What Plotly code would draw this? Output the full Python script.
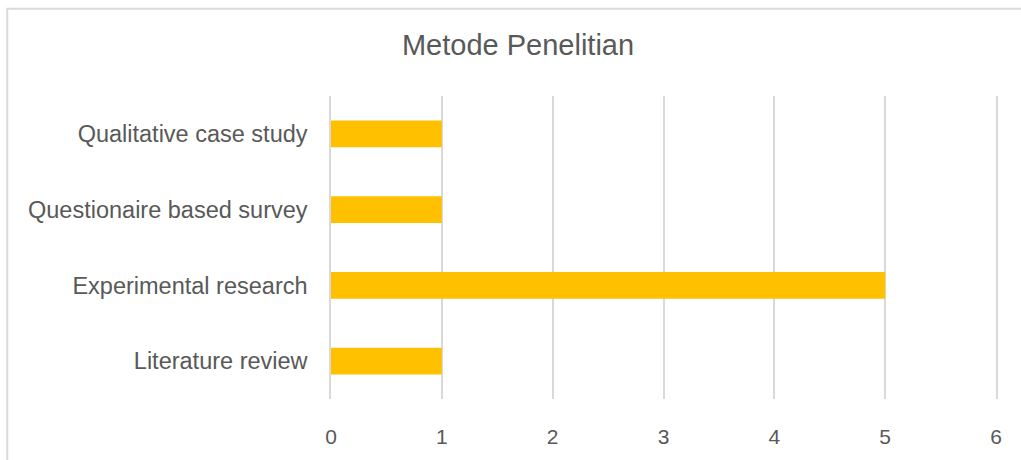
import plotly.graph_objects as go

categories = ["Qualitative case study", "Questionaire based survey", "Experimental research", "Literature review"]
values = [1, 1, 5, 1]
x_ticks = [0, 1, 2, 3, 4, 5, 6]
title_text = "Metode Penelitian"

W, H = 1021, 460
L, R, T, B = 331, 24.5, 96, 58
pw = W - L - R
ph = H - T - B

def px_x(x):
    return (x - L) / pw

def px_y(y):
    return (H - B - y) / ph

fig = go.Figure()
fig.add_trace(go.Bar(
    x=values, y=categories, orientation="h",
    marker=dict(color="#FFC000", line=dict(width=0)),
    hoverinfo="x+y",
))

font_family = "Liberation Sans, Arial, sans-serif"
grid = "#d9d9d9"
fig.update_layout(
    width=W, height=H,
    margin=dict(l=L, r=R, t=T, b=B, pad=0),
    paper_bgcolor="white", plot_bgcolor="white",
    bargap=0.645,
    showlegend=False,
    font=dict(family=font_family, color="#595959"),
    title=dict(text=title_text, x=518 / W, xanchor="center", xref="container",
               y=1 - 45 / H, yanchor="middle", yref="container",
               font=dict(size=29, color="#595959", family=font_family)),
    xaxis=dict(range=[0, 6], tickvals=x_ticks, showgrid=True, gridcolor=grid, gridwidth=1.5,
               zeroline=False, showline=False, ticks="outside", ticklen=19,
               tickcolor="rgba(0,0,0,0)", tickfont=dict(size=21, color="#595959"), fixedrange=True),
    yaxis=dict(autorange="reversed", showgrid=False, zeroline=False,
               showline=True, mirror=True, linecolor=grid, linewidth=1.5,
               ticks="outside", ticklen=17, tickcolor="rgba(0,0,0,0)",
               tickfont=dict(size=23.5, color="#595959"), fixedrange=True),
    shapes=[dict(type="rect", xref="paper", yref="paper",
                 x0=px_x(7), x1=px_x(1023), y0=px_y(475), y1=px_y(8),
                 line=dict(color=grid, width=2), fillcolor="rgba(0,0,0,0)", layer="below")],
)

fig.write_html("out.html")
